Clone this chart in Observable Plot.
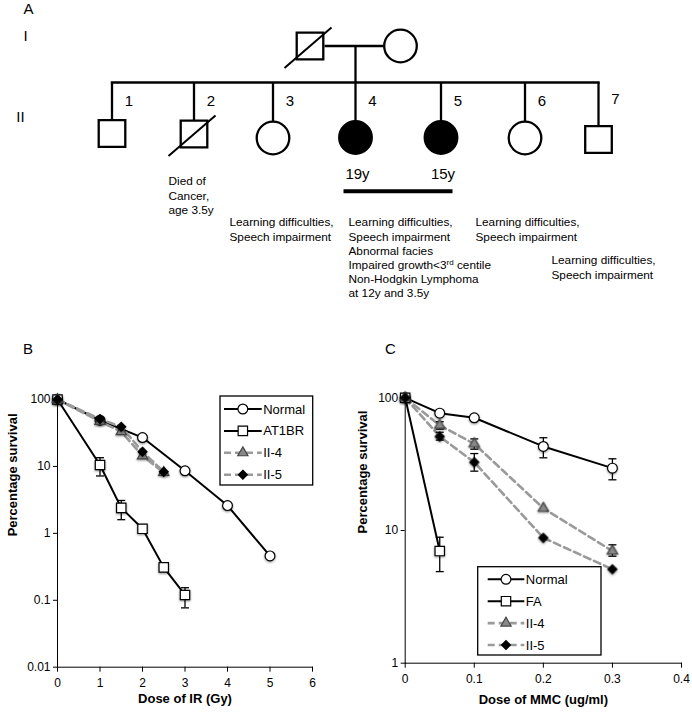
<!DOCTYPE html>
<html><head><meta charset="utf-8">
<script src="https://cdn.jsdelivr.net/npm/d3@7"></script>
<script src="https://cdn.jsdelivr.net/npm/@observablehq/plot@0.6"></script>
<style>
body{margin:0;background:#fff;font-family:"Liberation Sans",Arial,sans-serif;}
#fig{position:relative;width:692px;height:714px;overflow:hidden;background:#fff;}
#fig svg{position:absolute;overflow:visible;}
.panel-letter{position:absolute;font-size:15px;line-height:15px;color:#000;}
</style></head><body><div id="fig"></div>
<script>
// ================= Panel A: pedigree =================
const generationLabels = ["I", "II"];
const generationLabelX = [25, 20];
const generationLabelY = [36, 117];

const parentSex = ["M", "F"];
const parentDeceased = [true, false];
const parentX = [309.5, 400];
const parentY = [45.5, 45.5];

const childNumbers = [1, 2, 3, 4, 5, 6, 7];
const childSex = ["M", "M", "F", "F", "F", "F", "M"];
const childDeceased = [false, true, false, false, false, false, false];
const childAffected = [false, false, false, true, true, false, false];
const childX = [111.5, 193.5, 272.5, 355, 440.5, 524.5, 598];
const childY = [133, 133.5, 137.5, 137, 137, 137.5, 139];

const ageChild = [4, 5];
const ageLabels = ["19y", "15y"];

const noteChild = [2, 3, 4, 6, 7];
const noteText = [
  "Died of\nCancer,\nage 3.5y",
  "Learning difficulties,\nSpeech impairment",
  "Learning difficulties,\nSpeech impairment\nAbnormal facies\nImpaired growth<3rd centile\nNon-Hodgkin Lymphoma\nat 12y and 3.5y",
  "Learning difficulties,\nSpeech impairment",
  "Learning difficulties,\nSpeech impairment"
];
const noteX = [168, 229, 348, 475, 551];
const noteY = [175, 216, 216, 216, 254];

// ================= Panel B: IR survival =================
const irNormalDose = [0, 1, 2, 3, 4, 5];
const irNormalSurv = [100, 49, 27, 8.6, 2.6, 0.46];
const irAT1BRDose = [0, 1, 1.5, 2, 2.5, 3];
const irAT1BRSurv = [100, 10.5, 2.4, 1.17, 0.31, 0.12];
const irII4Dose = [0, 1, 1.5, 2, 2.5];
const irII4Surv = [100, 47, 33, 14.4, 8.1];
const irII5Dose = [0, 1, 1.5, 2, 2.5];
const irII5Surv = [100, 51, 39, 16.6, 8.3];
const irErrDose = [1, 1.5, 3];
const irErrLow = [7.2, 1.6, 0.077];
const irErrHigh = [13.5, 3.1, 0.154];
const irXTicks = [0, 1, 2, 3, 4, 5, 6];
const irYTicks = [0.01, 0.1, 1, 10, 100];

// ================= Panel C: MMC survival =================
const mmcNormalDose = [0, 0.05, 0.1, 0.2, 0.3];
const mmcNormalSurv = [100, 76.6, 70.7, 43, 29.5];
const mmcFADose = [0, 0.05];
const mmcFASurv = [100, 7];
const mmcII4Dose = [0, 0.05, 0.1, 0.2, 0.3];
const mmcII4Surv = [100, 62, 45, 14.7, 7];
const mmcII5Dose = [0, 0.05, 0.1, 0.2, 0.3];
const mmcII5Surv = [100, 51, 32.7, 8.8, 5.1];
const mmcErrSeries = ["Normal", "Normal", "FA", "II-4", "II-4", "II-4", "II-5", "II-5"];
const mmcErrDose = [0.2, 0.3, 0.05, 0.05, 0.1, 0.3, 0.05, 0.1];
const mmcErrLow = [35.3, 24.1, 4.9, 58, 41, 6.4, 48, 28];
const mmcErrHigh = [50, 34.7, 8.9, 66, 49, 7.8, 55, 38];
const mmcXTicks = [0, 0.1, 0.2, 0.3, 0.4];
const mmcYTicks = [1, 10, 100];

const FONT = '"Liberation Sans", Arial, sans-serif';
const fig = document.getElementById("fig");

// ---------- pedigree ----------
const parents = parentSex.map((sex, i) => ({sex, deceased: parentDeceased[i], affected: false, x: parentX[i], y: parentY[i]}));
const kids = childNumbers.map((n, i) => ({n, sex: childSex[i], deceased: childDeceased[i], affected: childAffected[i], x: childX[i], y: childY[i]}));
const people = parents.concat(kids);
const SQ_R = 15, CI_R = 16.3;
const halfH = d => d.sex === "M" ? 13.5 : 16.5;
const sibshipY = 82;
const descentX = kids[3].x;
const ages = ageChild.map((c, i) => ({x: kids[c - 1].x, label: ageLabels[i]}));
const notes = noteChild.map((c, i) => ({child: c, text: noteText[i], x: noteX[i], y: noteY[i]}));
const LW = 2.3;

const ped = Plot.plot({
  width: 692, height: 340, margin: 0,
  x: {type: "identity", axis: null},
  y: {type: "identity", axis: null},
  style: {fontFamily: FONT, background: "transparent", overflow: "visible"},
  marks: [
    Plot.text(["A"], {x: 28, y: 9, text: d => d, fontSize: 15}),
    Plot.text(generationLabels, {x: generationLabelX, y: generationLabelY, text: d => d, fontSize: 15}),
    Plot.link([parents], {x1: d => d[0].x + 14.5, x2: d => d[1].x - 17, y1: d => d[0].y, y2: d => d[1].y, stroke: "black", strokeWidth: LW}),
    Plot.link([parents], {x1: descentX, x2: descentX, y1: d => d[0].y, y2: sibshipY, stroke: "black", strokeWidth: LW}),
    Plot.link([kids], {x1: d => d[0].x - 1.2, x2: d => d[d.length - 1].x + 1.2, y1: sibshipY, y2: sibshipY, stroke: "black", strokeWidth: LW}),
    Plot.link(kids, {x1: "x", x2: "x", y1: sibshipY, y2: d => d.y - halfH(d), stroke: "black", strokeWidth: LW}),
    Plot.dot(people.filter(d => d.sex === "M"), {x: "x", y: "y", symbol: "square", r: SQ_R, fill: d => d.affected ? "black" : "white", stroke: "black", strokeWidth: LW}),
    Plot.dot(people.filter(d => d.sex === "F"), {x: "x", y: "y", symbol: "circle", r: CI_R, fill: d => d.affected ? "black" : "white", stroke: "black", strokeWidth: LW}),
    Plot.link(people.filter(d => d.deceased), {x1: d => d.x - 25.5, y1: d => d.y + 22, x2: d => d.x + 21.5, y2: d => d.y - 18.5, stroke: "black", strokeWidth: 2}),
    Plot.text(kids, {x: d => d.x + 17, y: d => d.n === 7 ? 99 : 101, text: d => String(d.n), fontSize: 15}),
    Plot.text(ages, {x: d => d.x + 2, y: 174, text: "label", fontSize: 15}),
    Plot.link([ages], {x1: d => d[0].x - 12, x2: d => d[1].x + 11.5, y1: 190.7, y2: 190.7, stroke: "black", strokeWidth: 4}),
    Plot.text(notes, {x: "x", y: "y", text: "text", textAnchor: "start", lineAnchor: "top", fontSize: 11.8, lineHeight: 1.19})
  ]
});
ped.style.left = "0px"; ped.style.top = "0px";
fig.appendChild(ped);
d3.select(ped).selectAll("tspan").each(function () {
  if (this.textContent === "Impaired growth<3rd centile") {
    const t = d3.select(this);
    t.text("Impaired growth<3");
    t.append("tspan").attr("font-size", "8px").attr("dy", "-4").text("rd");
    t.append("tspan").attr("dy", "4").text(" centile");
  }
});

// ---------- survival panels ----------
const capSymbol = {draw(ctx) { ctx.moveTo(-4, 0); ctx.lineTo(4, 0); }};
const styles = {
  "Normal": {stroke: "black", width: 2, dash: null, symbol: "circle", r: 4.9, fill: "white", mstroke: "black"},
  "AT1BR": {stroke: "black", width: 2, dash: null, symbol: "square", r: 5.3, fill: "white", mstroke: "black"},
  "FA": {stroke: "black", width: 2, dash: null, symbol: "square", r: 5.3, fill: "white", mstroke: "black"},
  "II-4": {stroke: "#9a9a9a", width: 2.6, dash: "7,4", symbol: "triangle", r: 3.8, fill: "#888", mstroke: "#444"},
  "II-5": {stroke: "#9a9a9a", width: 2.6, dash: "7,4", symbol: "diamond2", r: 4.0, fill: "black", mstroke: "black"}
};
const symbolMap = {circle: d3.symbolCircle, square: d3.symbolSquare, triangle: d3.symbolTriangle, diamond2: d3.symbolDiamond2};
const SHADOW = "drop-shadow(0.6px 1px 1px rgba(0,0,0,0.45))";

function makeSeries(name, xs, ys) { return {name, rows: xs.map((x, i) => ({x, y: ys[i]}))}; }

function survivalPanel(o) {
  const marks = [];
  for (const s of o.series) {
    const st = styles[s.name];
    marks.push(Plot.line(s.rows, {x: "x", y: "y", stroke: st.stroke, strokeWidth: st.width, strokeDasharray: st.dash}));
  }
  marks.push(Plot.ruleX(o.errors, {x: "x", y1: "lo", y2: "hi", stroke: "black", strokeWidth: 1.3}));
  marks.push(Plot.dot(o.errors, {x: "x", y: "lo", symbol: capSymbol, r: 4, stroke: "black", strokeWidth: 1.3, fill: "none"}));
  marks.push(Plot.dot(o.errors, {x: "x", y: "hi", symbol: capSymbol, r: 4, stroke: "black", strokeWidth: 1.3, fill: "none"}));
  for (const s of o.series) {
    const st = styles[s.name];
    marks.push(Plot.dot(s.rows, {x: "x", y: "y", symbol: st.symbol, r: st.r, fill: st.fill, stroke: st.mstroke, strokeWidth: 1.2}));
  }
  marks.push(Plot.text([o.xTitle], {text: d => d, frameAnchor: "bottom", dy: o.xTitleDy, fontWeight: "bold", fontSize: 13}));
  marks.push(Plot.text(["Percentage survival"], {text: d => d, frameAnchor: "left", rotate: -90, dx: o.yTitleDx, dy: 3, fontWeight: "bold", fontSize: 13}));
  const svg = Plot.plot({
    width: 346, height: 374,
    marginLeft: o.m[0], marginRight: o.m[1], marginTop: o.m[2], marginBottom: o.m[3],
    style: {fontFamily: FONT, fontSize: "12px", background: "transparent", overflow: "visible"},
    x: {domain: o.xDomain, ticks: o.xTicks, tickFormat: d => String(d), tickSize: 5, tickPadding: 6, line: true, label: null},
    y: {type: "log", domain: o.yDomain, ticks: o.yTicks, tickFormat: d => String(d), tickSize: 4, tickPadding: 3, line: true, label: null},
    marks
  });
  svg.style.left = o.left + "px"; svg.style.top = o.top + "px";
  fig.appendChild(svg);
  // soft marker shadow (series markers only, not error caps)
  d3.select(svg).selectAll('g[aria-label="dot"]').filter((d, i) => i >= 2).style("filter", SHADOW);
  // legend
  const g = d3.select(svg).append("g").attr("text-anchor", "start");
  const L = o.legend;
  g.append("rect").attr("x", L.x).attr("y", L.y).attr("width", L.w).attr("height", L.h)
    .attr("fill", "white").attr("stroke", "black").attr("stroke-width", 1.3);
  o.series.forEach((s, i) => {
    const st = styles[s.name];
    const y = L.y + L.first + i * L.step;
    g.append("line").attr("x1", L.lx1).attr("x2", L.lx2).attr("y1", y).attr("y2", y)
      .attr("stroke", st.stroke).attr("stroke-width", st.width).attr("stroke-dasharray", st.dash);
    g.append("path").attr("transform", `translate(${(L.lx1 + L.lx2) / 2},${y})`)
      .attr("d", d3.symbol(symbolMap[st.symbol], Math.PI * st.r * st.r)())
      .attr("fill", st.fill).attr("stroke", st.mstroke).attr("stroke-width", 1.2);
    g.append("text").attr("x", L.lx2 + 1.5).attr("y", y).attr("dy", "0.35em")
      .attr("text-anchor", "start").attr("font-size", 13).attr("fill", "black").text(s.name);
  });
  return svg;
}

survivalPanel({
  left: 0, top: 340, m: [57, 34, 59, 47.3],
  series: [makeSeries("Normal", irNormalDose, irNormalSurv), makeSeries("AT1BR", irAT1BRDose, irAT1BRSurv),
           makeSeries("II-4", irII4Dose, irII4Surv), makeSeries("II-5", irII5Dose, irII5Surv)],
  errors: irErrDose.map((x, i) => ({x, lo: irErrLow[i], hi: irErrHigh[i]})),
  xDomain: [0, 6], xTicks: irXTicks, yDomain: [0.01, 100], yTicks: irYTicks,
  xTitle: "Dose of IR (Gy)", xTitleDy: 36, yTitleDx: -45,
  legend: {x: 220, y: 56, w: 92.7, h: 89, first: 13, step: 21.9, lx1: 224, lx2: 261.7}
});

survivalPanel({
  left: 346, top: 340, m: [58.7, 11, 57.3, 51.3],
  series: [makeSeries("Normal", mmcNormalDose, mmcNormalSurv), makeSeries("FA", mmcFADose, mmcFASurv),
           makeSeries("II-4", mmcII4Dose, mmcII4Surv), makeSeries("II-5", mmcII5Dose, mmcII5Surv)],
  errors: mmcErrDose.map((x, i) => ({x, lo: mmcErrLow[i], hi: mmcErrHigh[i]})),
  xDomain: [0, 0.4], xTicks: mmcXTicks, yDomain: [1, 100], yTicks: mmcYTicks,
  xTitle: "Dose of MMC (ug/ml)", xTitleDy: 41, yTitleDx: -42,
  legend: {x: 131.7, y: 226.7, w: 123.3, h: 88.3, first: 12.6, step: 21.9, lx1: 141.7, lx2: 178.3}
});

[["B", 23, 341], ["C", 385, 341]].forEach(([t, x, y]) => {
  const d = document.createElement("div");
  d.className = "panel-letter"; d.textContent = t;
  d.style.left = x + "px"; d.style.top = y + "px";
  fig.appendChild(d);
});
</script></body></html>
